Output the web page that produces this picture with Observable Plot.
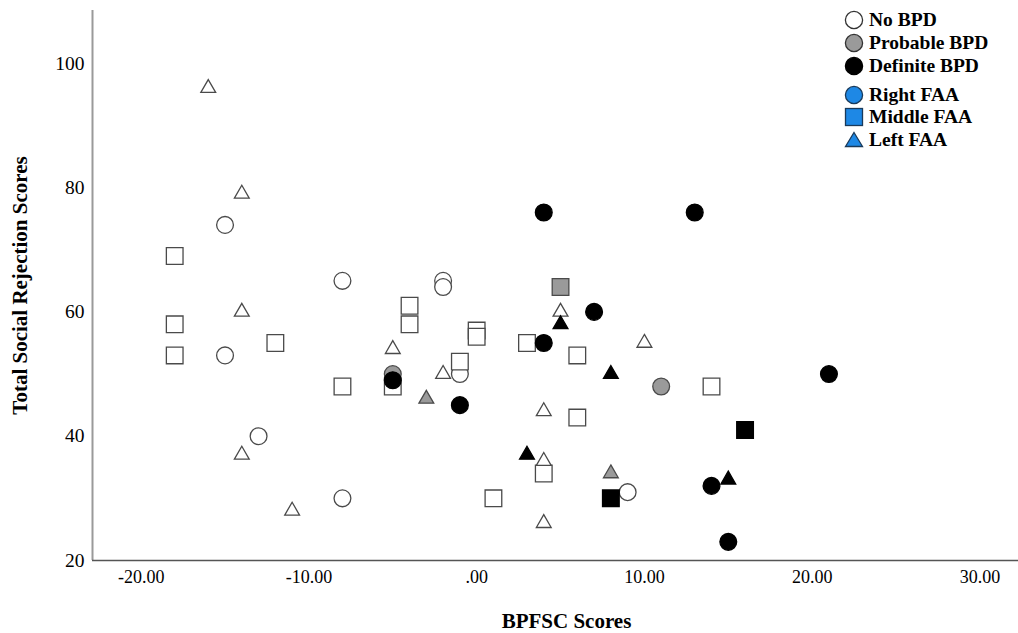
<!DOCTYPE html>
<html><head><meta charset="utf-8">
<script src="https://cdn.jsdelivr.net/npm/d3@7"></script>
<script src="https://cdn.jsdelivr.net/npm/@observablehq/plot@0.6"></script>
<style>
body{margin:0;background:#fff;}
#wrap{position:relative;width:1018px;height:633px;overflow:hidden;}
.lrow{position:absolute;left:843px;height:22px;display:flex;align-items:center;font-family:"Liberation Serif",serif;font-weight:bold;font-size:19.5px;color:#000;white-space:nowrap;}
.lrow svg{width:22px;height:22px;margin-right:4px;overflow:visible}
</style></head><body><div id="wrap"></div>
<script>
// ---- data ----
const bpfsc = [
  -15,-15,-13,-8,-8,-2,-2,-1,9,
  -18,-18,-18,-12,-8,-5,-4,-4,0,0,-1,3,6,6,4,1,14,
  -16,-14,-14,-14,-11,-5,-2,5,4,4,4,10,
  -5,11,
  5,
  -3,8,
  4,13,7,4,-1,-5,21,14,15,
  8,16,
  5,8,3,15
];
const rejection = [
  74,53,40,65,30,65,64,50,31,
  69,58,53,55,48,48,61,58,57,56,52,55,53,43,34,30,48,
  96,79,60,37,28,54,50,60,44,36,26,55,
  50,48,
  64,
  46,34,
  76,76,60,55,45,49,50,32,23,
  30,41,
  58,50,37,33
];
const bpdGroup = [
  ...Array(9).fill("No BPD"), ...Array(17).fill("No BPD"), ...Array(12).fill("No BPD"),
  "Probable BPD","Probable BPD","Probable BPD","Probable BPD","Probable BPD",
  ...Array(9).fill("Definite BPD"), ...Array(2).fill("Definite BPD"), ...Array(4).fill("Definite BPD")
];
const faaGroup = [
  ...Array(9).fill("Right FAA"), ...Array(17).fill("Middle FAA"), ...Array(12).fill("Left FAA"),
  "Right FAA","Right FAA","Middle FAA","Left FAA","Left FAA",
  ...Array(9).fill("Right FAA"), ...Array(2).fill("Middle FAA"), ...Array(4).fill("Left FAA")
];
const xTicks = [-20,-10,0,10,20,30];
const xTickLabels = ["-20.00","-10.00",".00","10.00","20.00","30.00"];
const yTicks = [20,40,60,80,100];
const bpdLegend = ["No BPD","Probable BPD","Definite BPD"];
const faaLegend = ["Right FAA","Middle FAA","Left FAA"];

// ---- styles ----
const xDomain = [-22.9, 32.3];
const yDomain = [20, 108.5];
const symbolOf = {"Right FAA":"circle","Middle FAA":"square","Left FAA":"triangle"};
const fillOf = {"No BPD":"#ffffff","Probable BPD":"#9a9a9a","Definite BPD":"#000000"};
const strokeOf = {"No BPD":"#4a4a4a","Probable BPD":"#4a4a4a","Definite BPD":"#000000"};
const rOf = {"Right FAA":8.4,"Middle FAA":9.4,"Left FAA":5.5};

const table = bpfsc.map((x,i)=>({x, y: rejection[i], bpd: bpdGroup[i], faa: faaGroup[i]}));

const dotMarks = [];
for (const b of bpdLegend) {
  for (const f of faaLegend) {
    const sub = table.filter(d => d.bpd === b && d.faa === f);
    dotMarks.push(Plot.dot(sub, {
      x: "x", y: "y", symbol: () => symbolOf[f], r: rOf[f],
      fill: fillOf[b], stroke: strokeOf[b], strokeWidth: 1.3
    }));
  }
}

const chart = Plot.plot({
  width: 1018, height: 633,
  marginLeft: 92, marginRight: 0, marginTop: 10, marginBottom: 73,
  style: {fontFamily: "'Liberation Serif', serif", fontSize: "18px", color: "#000", background: "#fff"},
  x: {domain: xDomain},
  y: {domain: yDomain},
  symbol: {type: "identity"},
  marks: [
    Plot.ruleX([xDomain[0]], {stroke: "#9a9a9a", strokeWidth: 2}),
    Plot.ruleY([yDomain[0]], {stroke: "#555", strokeWidth: 1.5}),
    Plot.axisX({ticks: xTicks, tickSize: 0, tickPadding: 10, label: null,
      tickFormat: d => xTickLabels[xTicks.indexOf(d)], fill: "#000", fontSize: 18}),
    Plot.axisY({ticks: yTicks, tickSize: 0, tickPadding: 8, label: null, fill: "#000", fontSize: 19.5}),
    Plot.text(["BPFSC Scores"], {frameAnchor: "bottom", text: d => d, dx: 11, dy: 67,
      fontSize: 21, fontWeight: "bold", fill: "#000", textAnchor: "middle"}),
    Plot.text(["Total Social Rejection Scores"], {frameAnchor: "left", text: d => d, rotate: -90, dx: -72,
      fontSize: 21, fontWeight: "bold", fill: "#000", textAnchor: "middle"}),
    ...dotMarks
  ]
});
document.getElementById("wrap").appendChild(chart);

// ---- legend (HTML overlay) ----
const wrap = document.getElementById("wrap");
const legendRows = [
  {label: bpdLegend[0], shape: "circle", fill: "#ffffff", stroke: "#333", top: 9},
  {label: bpdLegend[1], shape: "circle", fill: "#9a9a9a", stroke: "#333", top: 32},
  {label: bpdLegend[2], shape: "circle", fill: "#000000", stroke: "#000", top: 55},
  {label: faaLegend[0], shape: "circle", fill: "#1e88e5", stroke: "#1a3a5a", top: 84},
  {label: faaLegend[1], shape: "square", fill: "#1e88e5", stroke: "#1a3a5a", top: 106},
  {label: faaLegend[2], shape: "triangle", fill: "#1e88e5", stroke: "#1a3a5a", top: 129}
];
for (const r of legendRows) {
  const row = document.createElement("div");
  row.className = "lrow";
  row.style.top = r.top + "px";
  let shape;
  if (r.shape === "circle") shape = `<circle cx="11" cy="11" r="8.6" fill="${r.fill}" stroke="${r.stroke}" stroke-width="1.3"/>`;
  else if (r.shape === "square") shape = `<rect x="2.5" y="2.5" width="17" height="17" fill="${r.fill}" stroke="${r.stroke}" stroke-width="1.3"/>`;
  else shape = `<path d="M11,3.5L19.5,17.5L2.5,17.5Z" fill="${r.fill}" stroke="${r.stroke}" stroke-width="1.3"/>`;
  row.innerHTML = `<svg viewBox="0 0 22 22">${shape}</svg><span>${r.label}</span>`;
  wrap.appendChild(row);
}
</script>
</body></html>
